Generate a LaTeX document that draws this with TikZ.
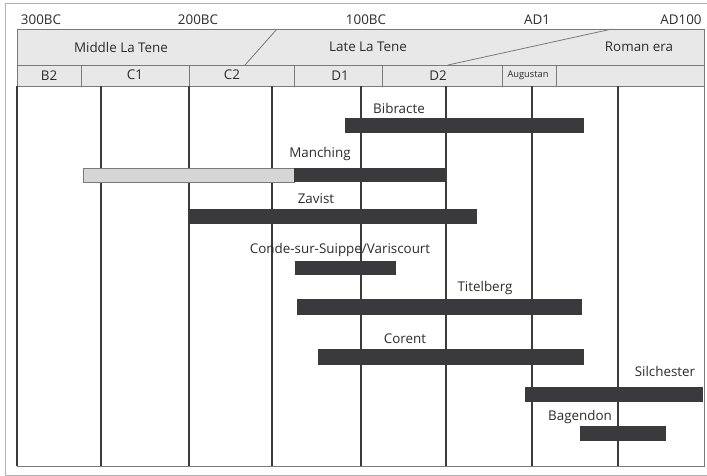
\documentclass[tikz,border=0pt]{standalone}
\usepackage{fontspec}
\setmainfont{Open Sans}
\definecolor{bardark}{HTML}{3A3A3C}
\definecolor{barlight}{HTML}{D6D6D6}
\definecolor{bandfill}{HTML}{E8E8E8}
\definecolor{txt}{HTML}{2C2C2C}
\definecolor{vdark}{HTML}{3C3C3C}
\definecolor{hdrline}{HTML}{7A7A7A}
\definecolor{outer}{HTML}{B0B0B0}
\begin{document}
\begin{tikzpicture}[x=1pt,y=-1pt,
  font=\fontsize{13.4}{15}\selectfont,
  lbl/.style={text=txt, inner sep=0pt},
  smalllbl/.style={text=txt, inner sep=0pt, font=\fontsize{9.3}{10}\selectfont},
  vline/.style={draw=vdark, line width=1.6pt},
  hline/.style={draw=hdrline, line width=0.8pt},
  darkbar/.style={fill=bardark},
  lightbar/.style={fill=barlight, draw=hdrline, line width=0.4pt}]
\useasboundingbox (0,0) rectangle (707,476);
\fill[white] (0,0) rectangle (707,476);
% outer frame
\draw[outer, line width=1pt] (708,4) -- (5,4) -- (5,475) -- (708,475);
% header bands
\fill[bandfill] (17,29) rectangle (704,86);
\draw[hline] (17,29) -- (704,29) -- (704,86);
\draw[hline] (17,29) -- (17,86);
\draw[hline] (17,65) -- (704,65);
\draw[hline] (17,86) -- (704,86);
\foreach \x in {81,189,294,382,502,556} \draw[hline] (\x,65) -- (\x,86);
\draw[hline] (245,65) -- (277,29);
\draw[hline] (448,65) -- (612,29);
% chart area
\draw[draw=hdrline, line width=1pt] (17,86) -- (17,466) -- (704,466) -- (704,86);
\draw[draw=vdark, line width=1.2pt] (17,86) -- (17,466);
\foreach \x in {101,189,272,361,446,532,618} \draw[vline] (\x,86) -- (\x,466);
% year labels
\node[lbl] (y300) at (41,20) {300BC};
\node[lbl] (y200) at (198,20) {200BC};
\node[lbl] (y100) at (366,20) {100BC};
\node[lbl] (yad1) at (537,20) {AD1};
\node[lbl] (yad100) at (681,20) {AD100};
% periods
\node[lbl] (mlt) at (121,47) {Middle La Tene};
\node[lbl] (llt) at (368,47) {Late La Tene};
\node[lbl] (rom) at (639,47) {Roman era};
% phases
\node[lbl] (b2) at (49,76) {B2};
\node[lbl] (c1) at (135,75) {C1};
\node[lbl] (c2) at (232,75) {C2};
\node[lbl] (d1) at (340,76) {D1};
\node[lbl] (d2) at (438,76) {D2};
\node[smalllbl] (aug) at (528,75) {Augustan};
% bars
\fill[darkbar] (345,118) rectangle (584,133);
\node[lbl] (bib) at (399,108) {Bibracte};
\filldraw[lightbar] (83,168) rectangle (294,182);
\fill[darkbar] (294,168) rectangle (446,182);
\node[lbl] (man) at (320,154) {Manching};
\fill[darkbar] (189,209) rectangle (477,224);
\node[lbl] (zav) at (316,199) {Zavist};
\fill[darkbar] (295,261) rectangle (396,275);
\node[lbl] (con) at (340,250) {Conde-sur-Suippe/Variscourt};
\fill[darkbar] (297,299) rectangle (582,315);
\node[lbl] (tit) at (485,288) {Titelberg};
\fill[darkbar] (318,349) rectangle (584,365);
\node[lbl] (cor) at (405,339) {Corent};
\fill[darkbar] (525,387) rectangle (703,402);
\node[lbl] (sil) at (665,371) {Silchester};
\fill[darkbar] (580,426) rectangle (666,441);
\node[lbl] (bag) at (580,417) {Bagendon};
\end{tikzpicture}
\end{document}
